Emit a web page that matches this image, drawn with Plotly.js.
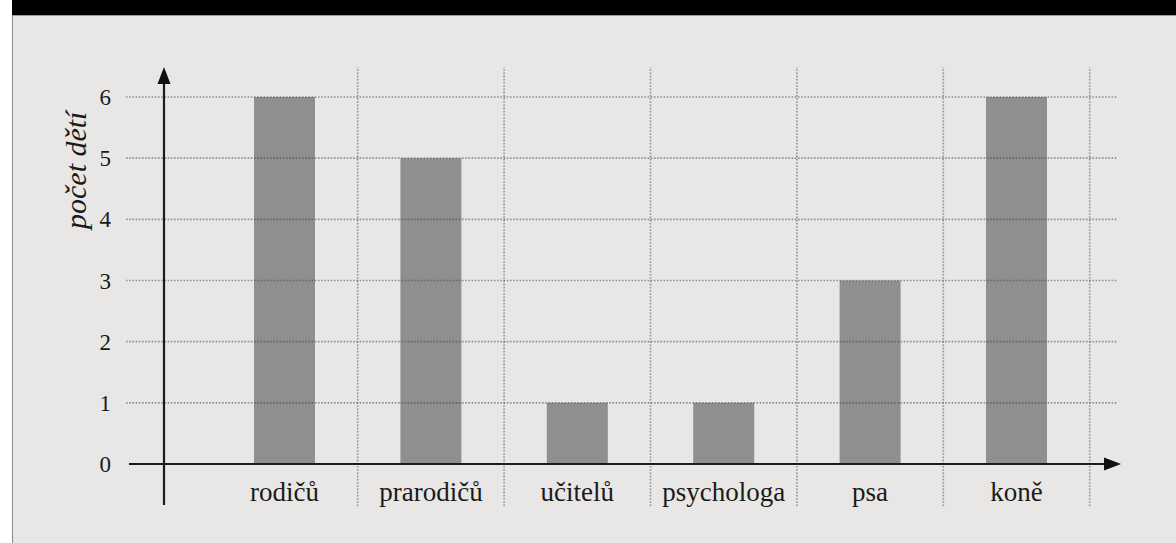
<!DOCTYPE html>
<html><head><meta charset="utf-8">
<script src="https://cdn.plot.ly/plotly-3.0.1.min.js"></script>
<style>html,body{margin:0;padding:0;background:#e8e7e5;overflow:hidden;} #chart{width:1176px;height:543px;}</style>
</head><body><div id="chart"></div>
<script>
const categories = ['rodičů', 'prarodičů', 'učitelů', 'psychologa', 'psa', 'koně'];
const counts = [6, 5, 1, 1, 3, 6];
const yTicks = [0, 1, 2, 3, 4, 5, 6];
const yTitle = 'počet dětí';

const SERIF = '"Times New Roman", "Liberation Serif", "DejaVu Serif", serif';

const W = 1176, H = 543;
const M = {l: 116, r: 40, t: 50, b: 25};
// scale calibration (pixels per unit)
const X0PX = 284.5, XSTEP = 146.4;
const Y0PX = 464, YSTEP = 61.1667;
const px2x = px => (px - X0PX) / XSTEP;
const py2y = py => (Y0PX - py) / YSTEP;
const xRange = [px2x(M.l), px2x(W - M.r)];
const yRange = [py2y(H - M.b), py2y(M.t)];
const px2paperX = px => (px - M.l) / (W - M.l - M.r);
const py2paperY = py => (H - M.b - py) / (H - M.t - M.b);

const gridLine = {color: 'rgba(60,60,60,0.5)', width: 1.6, dash: '1.6px,1.6px'};
const axisLine = {color: '#1c1c1c', width: 2.2};

const shapes = [];
// frame decorations
shapes.push({type: 'rect', xref: 'paper', yref: 'paper', x0: px2paperX(0), x1: px2paperX(12), y0: py2paperY(H), y1: py2paperY(0), fillcolor: '#ffffff', line: {width: 0}, layer: 'above'});
shapes.push({type: 'line', xref: 'paper', yref: 'paper', x0: px2paperX(12.5), x1: px2paperX(12.5), y0: py2paperY(H), y1: py2paperY(0), line: {color: '#8a8a8a', width: 1}, layer: 'above'});
shapes.push({type: 'rect', xref: 'paper', yref: 'paper', x0: px2paperX(12), x1: px2paperX(W), y0: py2paperY(15), y1: py2paperY(0), fillcolor: '#000000', line: {width: 0}, layer: 'above'});
shapes.push({type: 'line', xref: 'paper', yref: 'paper', x0: px2paperX(12), x1: px2paperX(W), y0: py2paperY(15.5), y1: py2paperY(15.5), line: {color: '#9a9a9a', width: 1}, layer: 'above'});

// horizontal grid
yTicks.filter(v => v > 0).forEach(v => shapes.push({type: 'line', xref: 'x', yref: 'y', x0: px2x(126), x1: px2x(1118), y0: v, y1: v, line: gridLine, layer: 'above'}));
// vertical grid at category boundaries
categories.forEach((c, i) => shapes.push({type: 'line', xref: 'x', yref: 'y', x0: i + 0.5, x1: i + 0.5, y0: py2y(506), y1: py2y(67), line: gridLine, layer: 'above'}));
// axes
shapes.push({type: 'line', xref: 'x', yref: 'y', x0: px2x(129), x1: px2x(1106), y0: 0, y1: 0, line: axisLine, layer: 'above'});
shapes.push({type: 'line', xref: 'x', yref: 'y', x0: px2x(164), x1: px2x(164), y0: py2y(505), y1: py2y(82), line: axisLine, layer: 'above'});
// arrowheads (pixel sized)
shapes.push({type: 'path', xref: 'x', yref: 'y', xsizemode: 'pixel', ysizemode: 'pixel', xanchor: px2x(1121), yanchor: 0, path: 'M0,0L-17,6.5L-17,-6.5Z', fillcolor: '#111111', line: {width: 0}, layer: 'above'});
shapes.push({type: 'path', xref: 'x', yref: 'y', xsizemode: 'pixel', ysizemode: 'pixel', xanchor: px2x(164), yanchor: py2y(67), path: 'M0,0L-6.5,-17L6.5,-17Z', fillcolor: '#111111', line: {width: 0}, layer: 'above'});

const trace = {
  type: 'bar',
  x: categories.map((c, i) => i),
  y: counts,
  width: 61 / XSTEP,
  marker: {color: '#8f908e', line: {width: 0}},
  hoverinfo: 'skip'
};

const layout = {
  width: W, height: H,
  margin: M,
  paper_bgcolor: '#e8e7e5',
  plot_bgcolor: '#e8e7e5',
  showlegend: false,
  font: {family: SERIF, color: '#1a1a1a'},
  xaxis: {
    type: 'linear', range: xRange, tickvals: categories.map((c, i) => i), ticktext: categories,
    showgrid: false, zeroline: false, showline: false, ticks: '',
    anchor: 'free', position: (0 - yRange[0]) / (yRange[1] - yRange[0]),
    tickfont: {size: 27, family: SERIF, color: '#1a1a1a'},
    ticklabelstandoff: 9
  },
  yaxis: {
    range: yRange, tickvals: yTicks, showgrid: false, zeroline: false, showline: false, ticks: '',
    tickfont: {size: 23, family: SERIF, color: '#1a1a1a'},
    ticklabelstandoff: 4
  },
  annotations: [{
    xref: 'paper', yref: 'paper', x: px2paperX(75), y: py2paperY(170),
    text: '<i>' + yTitle + '</i>', textangle: -90, showarrow: false,
    xanchor: 'center', yanchor: 'middle',
    font: {size: 30, family: SERIF, color: '#1a1a1a'}
  }],
  shapes: shapes
};

Plotly.newPlot('chart', [trace], layout, {displayModeBar: false, staticPlot: true});
</script>
</body></html>
